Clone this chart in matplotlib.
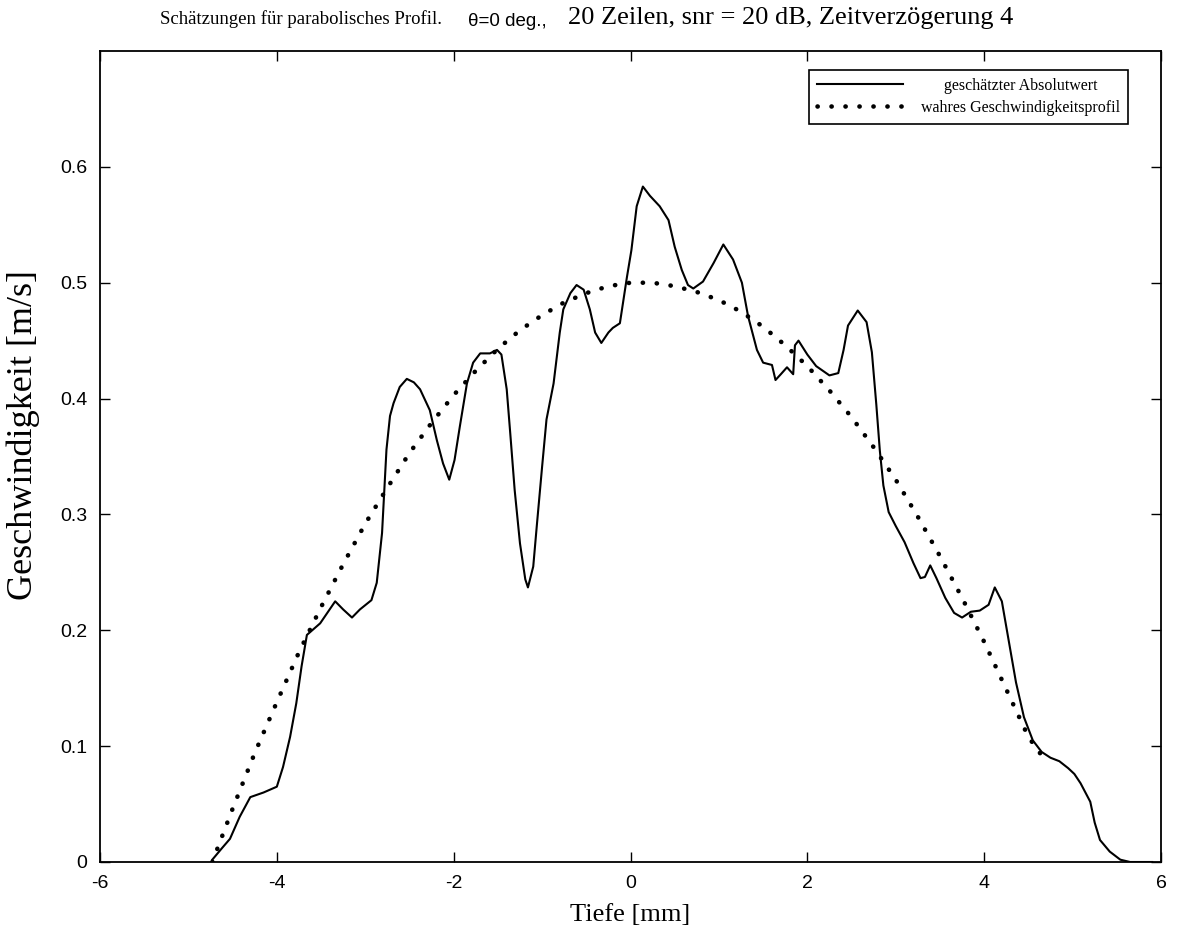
import matplotlib
matplotlib.use("Agg")
import matplotlib.pyplot as plt

# ---- data ----
est_x = [-4.73, -4.62, -4.53, -4.42, -4.30, -4.15, -4.00, -3.93, -3.85, -3.78,
         -3.72, -3.66, -3.51, -3.34, -3.25, -3.15, -3.06, -2.93, -2.87, -2.81,
         -2.78, -2.76, -2.72, -2.68, -2.61, -2.53, -2.45, -2.38, -2.27, -2.19,
         -2.12, -2.05, -1.99, -1.93, -1.85, -1.78, -1.70, -1.59, -1.51, -1.46,
         -1.40, -1.36, -1.31, -1.25, -1.19, -1.16, -1.10, -1.06, -1.00, -0.95,
         -0.87, -0.80, -0.76, -0.68, -0.61, -0.53, -0.46, -0.40, -0.33, -0.25,
         -0.20, -0.12, -0.08, -0.04, 0.01, 0.07, 0.14, 0.22, 0.33, 0.43,
         0.50, 0.58, 0.65, 0.71, 0.82, 0.94, 1.05, 1.16, 1.26, 1.33,
         1.43, 1.50, 1.60, 1.64, 1.70, 1.77, 1.84, 1.86, 1.90, 2.00,
         2.10, 2.25, 2.35, 2.41, 2.46, 2.57, 2.67, 2.73, 2.78, 2.82,
         2.86, 2.92, 3.00, 3.10, 3.20, 3.28, 3.33, 3.39, 3.46, 3.56,
         3.66, 3.75, 3.85, 3.95, 4.05, 4.12, 4.20, 4.28, 4.36, 4.45,
         4.55, 4.65, 4.75, 4.85, 4.95, 5.02, 5.09, 5.20, 5.25, 5.31,
         5.42, 5.54, 5.65, 5.90]
est_y = [0.002, 0.012, 0.020, 0.039, 0.056, 0.060, 0.065, 0.082, 0.108, 0.137,
         0.169, 0.196, 0.206, 0.225, 0.218, 0.211, 0.218, 0.226, 0.241, 0.284,
         0.327, 0.356, 0.385, 0.396, 0.410, 0.417, 0.414, 0.408, 0.390, 0.364,
         0.344, 0.330, 0.347, 0.376, 0.413, 0.431, 0.439, 0.439, 0.442, 0.438,
         0.408, 0.370, 0.321, 0.275, 0.244, 0.237, 0.255, 0.290, 0.341, 0.382,
         0.413, 0.457, 0.477, 0.491, 0.498, 0.494, 0.477, 0.457, 0.448, 0.457,
         0.461, 0.465, 0.485, 0.505, 0.528, 0.566, 0.583, 0.575, 0.566, 0.554,
         0.531, 0.511, 0.498, 0.495, 0.501, 0.517, 0.533, 0.520, 0.500, 0.471,
         0.442, 0.431, 0.429, 0.416, 0.421, 0.427, 0.421, 0.446, 0.450, 0.438,
         0.428, 0.420, 0.422, 0.442, 0.463, 0.476, 0.466, 0.440, 0.395, 0.355,
         0.325, 0.302, 0.290, 0.276, 0.258, 0.245, 0.246, 0.256, 0.245, 0.228,
         0.215, 0.211, 0.216, 0.217, 0.222, 0.237, 0.225, 0.190, 0.155, 0.125,
         0.105, 0.095, 0.090, 0.087, 0.081, 0.076, 0.068, 0.052, 0.034, 0.019,
         0.009, 0.002, 0.000, 0.000]

true_x = [-4.73, -4.50, -4.25, -4.00, -3.75, -3.50, -3.25, -3.00, -2.75, -2.50,
          -2.25, -2.00, -1.75, -1.50, -1.25, -1.00, -0.75, -0.50, -0.25, 0.00,
          0.25, 0.50, 0.75, 1.00, 1.25, 1.50, 1.75, 2.00, 2.25, 2.50,
          2.75, 3.00, 3.25, 3.50, 3.75, 4.00, 4.25, 4.50, 4.65]
true_y = [0.000, 0.046, 0.094, 0.138, 0.181, 0.220, 0.257, 0.292, 0.323, 0.353,
          0.379, 0.403, 0.424, 0.443, 0.459, 0.472, 0.483, 0.491, 0.497, 0.500,
          0.500, 0.497, 0.492, 0.485, 0.475, 0.462, 0.446, 0.428, 0.407, 0.384,
          0.358, 0.330, 0.298, 0.264, 0.228, 0.190, 0.149, 0.108, 0.092]

x_ticks = [-6, -4, -2, 0, 2, 4, 6]
y_ticks = [0, 0.1, 0.2, 0.3, 0.4, 0.5, 0.6]
y_ticklabels = ["0", "0.1", "0.2", "0.3", "0.4", "0.5", "0.6"]

label_est = "geschätzter Absolutwert"
label_true = "wahres Geschwindigkeitsprofil"

# ---- figure ----
W, H = 1177, 942
fig = plt.figure(figsize=(W / 100, H / 100), dpi=100)
ax = fig.add_axes([100 / W, 80 / H, 1061 / W, 811 / H])

serif = "Liberation Serif"
sans = "Liberation Sans"

ax.plot(est_x, est_y, color="black", lw=1.5, label=label_est)
ax.plot(true_x, true_y, color="black", lw=3.3, linestyle=(0, (0.05, 3.0)),
        dash_capstyle="round", label=label_true)

ax.set_xlim(-6, 6)
ax.set_ylim(0, 0.7)
ax.set_xticks(x_ticks)
ax.set_xticklabels([str(t) for t in x_ticks], fontname=sans, fontsize=14)
ax.set_yticks(y_ticks)
ax.set_yticklabels(y_ticklabels, fontname=sans, fontsize=14)
ax.tick_params(direction="in", length=7, width=1.0, top=True, right=True,
               colors="black")
ax.tick_params(axis="x", pad=9)
ax.tick_params(axis="y", pad=9)
for s in ax.spines.values():
    s.set_linewidth(1.3)

ax.set_xlabel("Tiefe [mm]", fontname=serif, fontsize=19, labelpad=9)
ax.set_ylabel("Geschwindigkeit [m/s]", fontname=serif, fontsize=26)
ax.yaxis.set_label_coords(-0.057, 0.527)

leg = ax.legend(loc="upper right", bbox_to_anchor=(0.9689, 0.9766), frameon=True,
                fancybox=False, edgecolor="black", framealpha=1,
                prop={"family": serif, "size": 11.5}, handlelength=5.4,
                handletextpad=1.1, borderpad=0.5, labelspacing=0.35,
                borderaxespad=0)
leg.get_frame().set_linewidth(1.2)

# centre the shorter legend label over the longer one (as in the reference)
fig.canvas.draw()
t1, t2 = leg.get_texts()
w1 = t1.get_window_extent().width
w2 = t2.get_window_extent().width
t1.set_position(((w2 - w1) / 2.0, 0))

# title in pieces (mixed fonts as in the reference)
yb = 1 - 24 / H
fig.text(160 / W, yb, "Schätzungen für parabolisches Profil.",
         fontname=serif, fontsize=13.5, ha="left", va="baseline")
fig.text(468 / W, 1 - 26 / H, "θ=0 deg.,", fontname=sans, fontsize=13.5,
         ha="left", va="baseline")
fig.text(568 / W, yb, "20 Zeilen, snr = 20 dB, Zeitverzögerung 4",
         fontname=serif, fontsize=19, ha="left", va="baseline")

fig.savefig("out.png", dpi=100)
